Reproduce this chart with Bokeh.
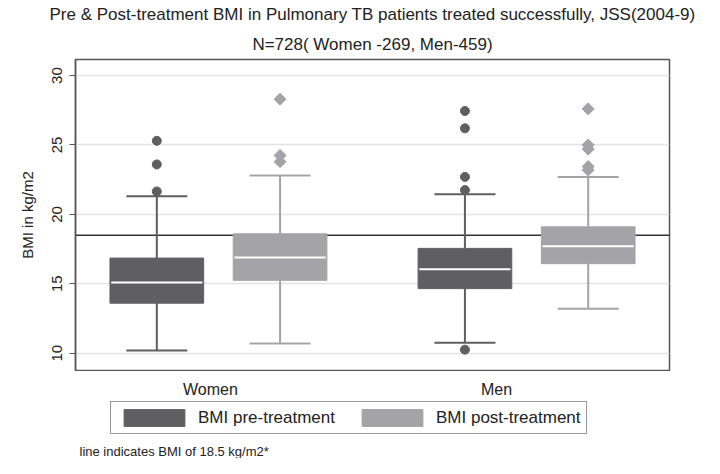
from bokeh.plotting import figure
from bokeh.layouts import column
from bokeh.models import (ColumnDataSource, FactorRange, Whisker, TeeHead, Span,
                          Legend, LegendItem, Label, Title, SingleIntervalTicker, Range1d)
from bokeh.core.properties import value
from bokeh.embed import file_html
from bokeh.resources import INLINE

# ---- data ----
groups = ["Women", "Men"]
pre_q1 = [13.6, 14.65]
pre_med = [15.1, 16.05]
pre_q3 = [16.85, 17.55]
pre_lw = [10.2, 10.75]
pre_uw = [21.3, 21.45]

post_q1 = [15.25, 16.45]
post_med = [16.9, 17.7]
post_q3 = [18.6, 19.1]
post_lw = [10.7, 13.2]
post_uw = [22.8, 22.7]

pre_out_women = [25.3, 23.6, 21.65]
pre_out_men = [27.45, 26.2, 22.7, 21.75, 10.25]
post_out_women = [28.3, 24.25, 23.8]
post_out_men = [27.6, 25.0, 24.7, 23.45, 23.2]

cutoff = 18.5

title_text = "Pre & Post-treatment BMI in Pulmonary TB patients treated successfully, JSS(2004-9)"
subtitle_text = "N=728( Women -269, Men-459)"
ylabel = "BMI in kg/m2"
note_text = "line indicates BMI of 18.5 kg/m2*"
series_labels = ["BMI pre-treatment", "BMI post-treatment"]

PRE = "#5f5f61"
POST = "#a3a3a8"
FONT = "Liberation Sans"
TXT = "#222222"
FRAME = "#555555"

factors = [(g, s) for g in groups for s in ("pre", "post")]
xr = FactorRange(factors=factors, factor_padding=0.0, group_padding=0.5, range_padding=0.071)

# ---------------- main plot ----------------
p = figure(width=704, height=371, output_backend="svg", toolbar_location=None,
           x_range=xr, y_range=Range1d(8.75, 31.16),
           title=title_text, x_axis_location=None,
           min_border_left=75, min_border_right=35, min_border_top=5, min_border_bottom=1)

p.title.text_font = FONT
p.title.text_font_size = "17px"
p.title.text_font_style = "normal"
p.title.align = "center"
p.title.text_color = TXT
p.title.standoff = 5
p.add_layout(Title(text=subtitle_text, text_font=FONT, text_font_size="17px",
                   text_font_style="normal", align="center", text_color=TXT,
                   standoff=12), "above")

p.outline_line_color = FRAME
p.outline_line_width = 1.5
p.xgrid.grid_line_color = None
p.ygrid.grid_line_color = "#e3e3e3"
p.ygrid.grid_line_width = 1.5

p.yaxis.ticker = SingleIntervalTicker(interval=5, num_minor_ticks=0)
p.yaxis.major_label_orientation = "vertical"
p.yaxis.major_label_text_font = FONT
p.yaxis.major_label_text_font_size = "15px"
p.yaxis.major_label_text_color = TXT
p.yaxis.major_label_standoff = 7
p.yaxis.major_tick_out = 6
p.yaxis.major_tick_in = 0
p.yaxis.minor_tick_line_color = None
p.yaxis.major_tick_line_color = FRAME
p.yaxis.axis_line_color = FRAME
p.yaxis.axis_line_width = 1.5
p.yaxis.axis_label = ylabel
p.yaxis.axis_label_text_font = FONT
p.yaxis.axis_label_text_font_size = "15px"
p.yaxis.axis_label_text_font_style = "normal"
p.yaxis.axis_label_text_color = TXT
p.yaxis.axis_label_standoff = 14

p.add_layout(Span(location=cutoff, dimension="width", line_color="#333333",
                  line_width=1.5, level="underlay"))

box_sources = {}
for s, q1, med, q3, lw, uw, color, outs in [
        ("pre", pre_q1, pre_med, pre_q3, pre_lw, pre_uw, PRE, [pre_out_women, pre_out_men]),
        ("post", post_q1, post_med, post_q3, post_lw, post_uw, POST, [post_out_women, post_out_men])]:
    src = ColumnDataSource(dict(x=[(g, s) for g in groups], q1=q1, med=med, q3=q3, lw=lw, uw=uw))
    box_sources[s] = src
    p.add_layout(Whisker(base="x", upper="uw", lower="q3", source=src, dimension="height",
                         line_color=color, line_width=2,
                         upper_head=TeeHead(size=61, line_color=color, line_width=2),
                         lower_head=None))
    p.add_layout(Whisker(base="x", upper="q1", lower="lw", source=src, dimension="height",
                         line_color=color, line_width=2,
                         lower_head=TeeHead(size=61, line_color=color, line_width=2),
                         upper_head=None))
    p.vbar(x="x", top="q3", bottom="q1", width=0.76, source=src,
           fill_color=color, line_color=color, line_width=1)
    p.rect(x="x", y="med", width=0.74, height=2, height_units="screen", source=src,
           fill_color="white", line_color=None)
    ox, oy = [], []
    for g, vals in zip(groups, outs):
        for v in vals:
            ox.append((g, s))
            oy.append(v)
    osrc = ColumnDataSource(dict(x=ox, y=oy))
    if s == "pre":
        p.scatter(x="x", y="y", source=osrc, marker="circle", size=9,
                  fill_color=color, line_color=color)
    else:
        p.scatter(x="x", y="y", source=osrc, marker="square", angle=0.785398, size=8.5,
                  fill_color=color, line_color=color)

# ---------------- bottom strip: category names, legend, note ----------------
p2 = figure(width=704, height=87, output_backend="svg", toolbar_location=None,
            x_range=xr, y_range=Range1d(0, 87),
            x_axis_location=None, y_axis_location=None, title_location=None,
            min_border_left=75, min_border_right=35, min_border_top=0, min_border_bottom=0)
p2.outline_line_color = None
p2.grid.grid_line_color = None

label_nudge = [-8, -30]
p2.text(x=groups, y=[69, 69], text=groups, x_offset=label_nudge,
        text_font=value(FONT), text_font_size="16px", text_color=TXT,
        text_align="center", text_baseline="middle")

# legend keys: same box data, renderers hidden in this strip
r_pre = p2.vbar(x="x", top="q3", bottom="q1", width=0.76, source=box_sources["pre"],
                fill_color=PRE, line_color=PRE, visible=False)
r_post = p2.vbar(x="x", top="q3", bottom="q1", width=0.76, source=box_sources["post"],
                 fill_color=POST, line_color=POST, visible=False)

legend = Legend(items=[LegendItem(label=series_labels[0], renderers=[r_pre]),
                       LegendItem(label=series_labels[1], renderers=[r_post])],
                orientation="horizontal", location=(35, 24),
                glyph_width=76, glyph_height=21, label_text_font=FONT,
                label_text_font_size="17px", label_text_color=TXT,
                label_standoff=6, spacing=19, padding=5, margin=0,
                border_line_color="#333333", border_line_width=1,
                background_fill_color="white")
p2.add_layout(legend)

p2.add_layout(Label(x=4, y=7, x_units="screen", y_units="screen", text=note_text,
                    text_font=FONT, text_font_size="13px", text_color=TXT,
                    text_baseline="middle", text_align="left"))

layout = column(p, p2, spacing=0)
open("out.html", "w").write(file_html(layout, INLINE))
